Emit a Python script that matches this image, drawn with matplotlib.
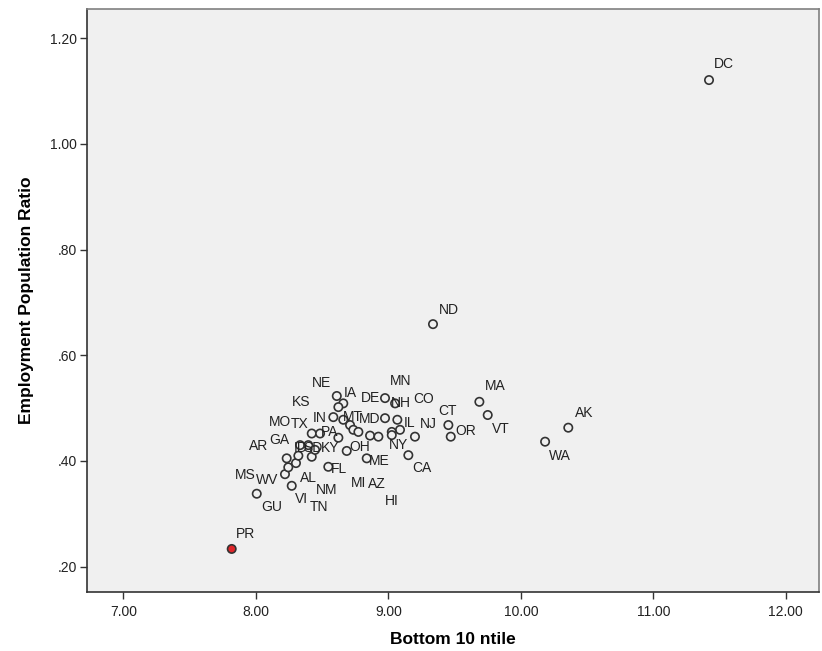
import matplotlib
matplotlib.use("Agg")
import matplotlib.pyplot as plt
from matplotlib.ticker import FuncFormatter, FixedLocator

plt.rcParams['font.family'] = ['Liberation Sans', 'DejaVu Sans']

# state / territory codes, bottom 10 ntile and employment-population ratio
states = ['DC', 'ND', 'MA', 'VT', 'CT', 'OR', 'AK', 'WA', 'CA', 'NJ', 'PR', 'GU',
          'MS', 'AR', 'WV', 'GA', 'AL', 'VI', 'MO', 'ID', 'TN', 'NM', 'TX', 'PA',
          'KY', 'FL', 'OH', 'NE', 'IA', 'KS', 'IN', 'MT', 'WI', 'MI', 'SD', 'AZ',
          'HI', 'DE', 'MN', 'MD', 'NH', 'IL', 'NY', 'CO', 'ME']
bottom_ntile = [11.42, 9.337, 9.687, 9.750, 9.453, 9.471, 10.358, 10.183, 9.151, 9.201, 7.818, 8.007,
                8.220, 8.245, 8.271, 8.233, 8.303, 8.321, 8.334, 8.396, 8.422, 8.447, 8.422, 8.485,
                8.623, 8.547, 8.686, 8.611, 8.660, 8.623, 8.585, 8.660, 8.711, 8.736, 8.774, 8.862,
                8.925, 8.975, 9.051, 8.975, 9.068, 9.088, 9.026, 9.026, 8.837]
emp_pop_ratio = [1.121, 0.659, 0.512, 0.487, 0.468, 0.446, 0.463, 0.4365, 0.411, 0.446, 0.2335, 0.338,
                 0.375, 0.388, 0.353, 0.405, 0.396, 0.410, 0.430, 0.430, 0.408, 0.421, 0.452, 0.452,
                 0.444, 0.389, 0.419, 0.523, 0.509, 0.502, 0.483, 0.478, 0.468, 0.459, 0.455, 0.448,
                 0.446, 0.519, 0.509, 0.481, 0.478, 0.459, 0.455, 0.449, 0.405]
highlight = 'PR'

# label placement relative to each marker, in pixels
label_offsets = {
    'DC': (15, 16), 'ND': (16, 14), 'MA': (16, 16), 'VT': (13, -14), 'CT': (-1, 14),
    'OR': (15, 6), 'AK': (16, 15), 'WA': (15, -14), 'CA': (14, -13), 'NJ': (13, 13),
    'PR': (14, 15), 'GU': (15, -13), 'MS': (-40, -1), 'AR': (-30, 21), 'WV': (-25, 6),
    'GA': (-7, 18), 'AL': (12, -15), 'VI': (3, -43), 'MO': (-20, 23), 'ID': (-8, -3),
    'TN': (7, -50), 'NM': (12, -40), 'TX': (-12, 10), 'PA': (10, 2), 'KY': (-8, -10),
    'FL': (11, -2), 'OH': (13, 4), 'NE': (-15, 13), 'IA': (7, 10), 'KS': (-37, 5),
    'IN': (-14, -1), 'MT': (10, 3), 'MI': (5, -53), 'SD': (-45, -16), 'AZ': (7, -48),
    'HI': (13, -64), 'DE': (-15, 0), 'MN': (6, 22), 'MD': (-15, -1), 'NH': (4, 17),
    'IL': (10, 7), 'NY': (7, -13), 'CO': (32, 36), 'ME': (13, -3),
}

fig = plt.figure(figsize=(8.22, 6.51), dpi=100)
ax = fig.add_axes([87 / 822, 1 - 592 / 651, 732 / 822, 583 / 651])
ax.set_facecolor('#F0F0F0')

face = ['#E0262A' if s == highlight else '#F0F0F0' for s in states]
ax.scatter(bottom_ntile, emp_pop_ratio, s=36, c=face, edgecolors='#333333',
           linewidths=1.2, zorder=3)

for s, xv, yv in zip(states, bottom_ntile, emp_pop_ratio):
    if s not in label_offsets:
        continue
    ax.annotate(s, (xv, yv), xytext=label_offsets[s], textcoords='offset pixels',
                ha='center', va='center', fontsize=10, color='#222222', zorder=4)

ax.set_xlim(6.726, 12.25)
ax.set_ylim(0.152, 1.2555)
ax.xaxis.set_major_locator(FixedLocator([7, 8, 9, 10, 11, 12]))
ax.yaxis.set_major_locator(FixedLocator([0.2, 0.4, 0.6, 0.8, 1.0, 1.2]))
ax.xaxis.set_major_formatter(FuncFormatter(lambda v, p: f'{v:.2f}'))
ax.yaxis.set_major_formatter(FuncFormatter(lambda v, p: f'{v:.2f}'.lstrip('0')))

ax.tick_params(axis='both', direction='out', length=5, width=1, color='#333333',
               labelsize=10, labelcolor='#222222', pad=2)
ax.tick_params(axis='x', pad=4)

for side in ['left', 'bottom']:
    ax.spines[side].set_color('#333333')
for side in ['top', 'right']:
    ax.spines[side].set_color('#808080')
for sp in ax.spines.values():
    sp.set_linewidth(1.2)

ax.set_xlabel('Bottom 10 ntile', fontsize=12.5, fontweight='bold', labelpad=10)
ax.set_ylabel('Employment Population Ratio', fontsize=12.5, fontweight='bold', labelpad=12)

fig.savefig('out.png', dpi=100)
